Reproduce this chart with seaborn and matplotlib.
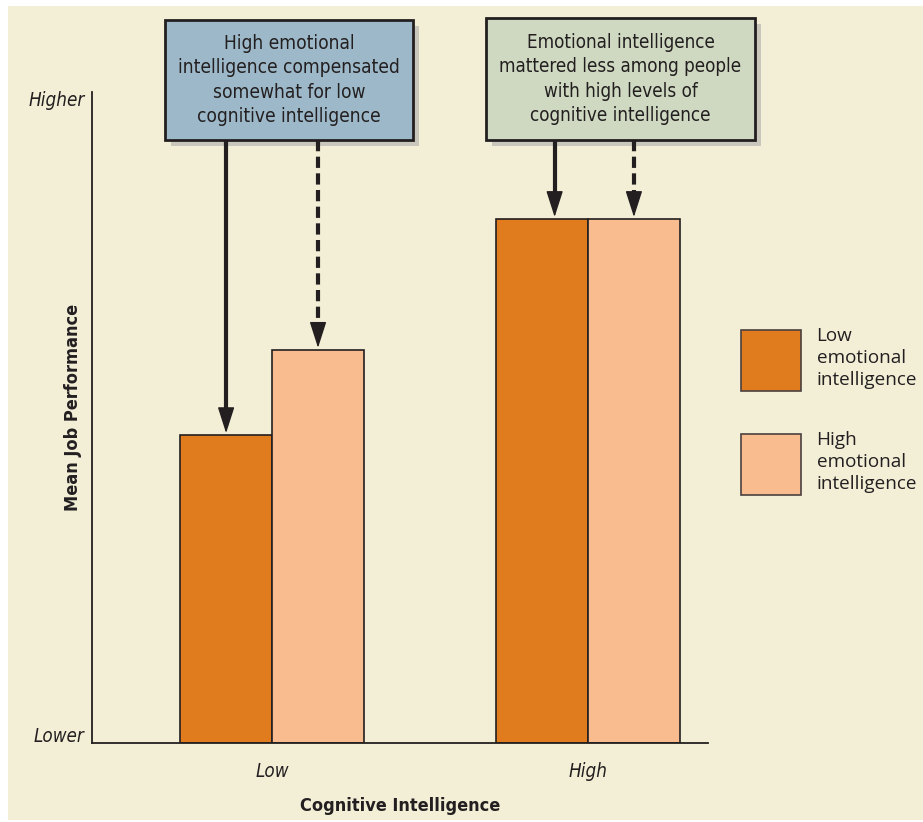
import matplotlib
matplotlib.use("Agg")
import matplotlib.pyplot as plt
import matplotlib.font_manager as fm
import seaborn as sns
import pandas as pd
from matplotlib.patches import Rectangle

# ---- data ----
cognitive = ["Low", "Low", "High", "High"]
emotional = ["Low emotional intelligence", "High emotional intelligence",
             "Low emotional intelligence", "High emotional intelligence"]
performance = [47.3, 60.4, 80.5, 80.5]
cog_order = ["Low", "High"]
emo_order = ["Low emotional intelligence", "High emotional intelligence"]
legend_labels = ["Low\nemotional\nintelligence", "High\nemotional\nintelligence"]
y_labels = ["Lower", "Higher"]
box_texts = ["High emotional\nintelligence compensated\nsomewhat for low\ncognitive intelligence",
             "Emotional intelligence\nmattered less among people\nwith high levels of\ncognitive intelligence"]

df = pd.DataFrame({"cog": cognitive, "emo": emotional, "perf": performance})

W, H = 923, 822
CREAM = "#F3EFD7"
DARK = "#E07B1E"
LIGHT = "#F9BC8F"
INK = "#231F20"

# pick a condensed font if one is available
flist = fm.fontManager.ttflist
names = {f.name for f in flist}
NSTRETCH = "normal"
if "Liberation Sans Narrow" in names:
    NARROW = ["Liberation Sans Narrow", "DejaVu Sans"]
elif any(f.name == "DejaVu Sans" and f.stretch in ("condensed", "semi-condensed") for f in flist):
    NARROW = ["DejaVu Sans"]
    NSTRETCH = "condensed"
else:
    others = sorted(n for n in names if ("Condensed" in n or "Narrow" in n))
    NARROW = (others[:1] if others else ["Roboto"]) + ["DejaVu Sans"]
HUMAN = ["Open Sans", "DejaVu Sans"]

sns.set_style("white")
plt.rcParams["font.family"] = NARROW
plt.rcParams["font.stretch"] = NSTRETCH

fig = plt.figure(figsize=(W / 100, H / 100), dpi=100)
fig.patch.set_facecolor("white")
fig.add_artist(Rectangle((8 / W, 1 - 820 / H), 1, (820 - 6) / H,
                         transform=fig.transFigure, facecolor=CREAM,
                         edgecolor="none", zorder=-10))


def fx(px):
    return px / W


def fy(py):
    return 1 - py / H


ax = fig.add_axes([fx(92), fy(743), fx(708) - fx(92), fy(92) - fy(743)])
ax.set_facecolor("none")

sns.barplot(data=df, x="cog", y="perf", hue="emo", order=cog_order,
            hue_order=emo_order, palette=[DARK, LIGHT], width=0.582,
            edgecolor=INK, linewidth=1.2, saturation=1, ax=ax, legend=True)

ax.set_xlim(-0.57, 1.38)
ax.set_ylim(0, 100)
for s in ["top", "right"]:
    ax.spines[s].set_visible(False)
for s in ["left", "bottom"]:
    ax.spines[s].set_color(INK)
    ax.spines[s].set_linewidth(1.3)

ax.set_yticks([])
ax.tick_params(axis="x", length=0, pad=14)
ax.set_xticks([0, 1])
ax.set_xticklabels(cog_order, fontsize=13.5, style="italic", color=INK,
                   family=NARROW, stretch=NSTRETCH)
ax.set_xlabel("Cognitive Intelligence", fontsize=13, fontweight="bold",
              color=INK, family=NARROW, stretch=NSTRETCH)
ax.set_ylabel("Mean Job Performance", fontsize=13, fontweight="bold",
              color=INK, family=NARROW, stretch=NSTRETCH)
ax.yaxis.set_label_coords(-0.016, 0.515)
ax.xaxis.set_label_coords(0.5, -0.083)

ax.text(-0.012, 0.01, y_labels[0], transform=ax.transAxes, ha="right", va="center",
        fontsize=13.5, style="italic", color=INK, family=NARROW, stretch=NSTRETCH)
ax.text(-0.012, 0.987, y_labels[1], transform=ax.transAxes, ha="right", va="center",
        fontsize=13.5, style="italic", color=INK, family=NARROW, stretch=NSTRETCH)

# legend
handles, _ = ax.get_legend_handles_labels()
for h in handles:
    h.set_edgecolor("#4a4040")
leg = ax.legend(handles, legend_labels, loc="upper left",
                bbox_to_anchor=(fx(741), fy(327)), bbox_transform=fig.transFigure,
                frameon=False, handlelength=3.2, handleheight=4.65,
                labelspacing=2.1, handletextpad=0.8, borderaxespad=0,
                borderpad=0,
                prop={"family": HUMAN, "size": 13.6, "stretch": "normal"})
for t in leg.get_texts():
    t.set_color(INK)
    t.set_linespacing(1.3)

# annotation boxes
boxes = [((165, 20, 413, 140), "#9DB9C9"), ((486, 18, 755, 140), "#CFD9C1")]
for (x0, y0, x1, y1), col in boxes:
    fig.add_artist(Rectangle((fx(x0 + 6), fy(y1 + 6)), fx(x1 - x0), fy(y0) - fy(y1),
                             transform=fig.transFigure, facecolor="#C9C6BB",
                             edgecolor="none", zorder=-1))
    fig.add_artist(Rectangle((fx(x0), fy(y1)), fx(x1 - x0), fy(y0) - fy(y1),
                             transform=fig.transFigure, facecolor=col,
                             edgecolor=INK, linewidth=2, zorder=2))
renderer = fig.canvas.get_renderer()
target_w = [221, 242]
for (b, _), txt, tw in zip(boxes, box_texts, target_w):
    x0, y0, x1, y1 = b
    t = fig.text(fx((x0 + x1) / 2), fy((y0 + y1) / 2), txt, ha="center", va="center",
                 fontsize=13.5, color=INK, linespacing=1.36, zorder=3,
                 family=NARROW, stretch=NSTRETCH)
    w = t.get_window_extent(renderer).width
    fs = 13.5 * tw / w
    t.set_fontsize(fs)
    t.set_linespacing(1.36 * 13.5 / fs)

# arrows from boxes to bar tops
bars = [p for p in ax.patches if p.get_height() > 0]
bars = sorted(bars, key=lambda p: p.get_x())
top_y = (743 - 140) / 651 * 100
offsets = [0.0, 0.0, 0.04, 0.0]
styles = ["-", "--", "-", "--"]
head = 23 / 651 * 100
for p, off, ls in zip(bars, offsets, styles):
    x = p.get_x() + p.get_width() / 2 + off
    yb = p.get_height() + 0.3
    ax.plot([x, x], [top_y, yb + head * 0.5], color=INK, lw=3,
            linestyle=(0, (2.7, 1.3)) if ls == "--" else "-",
            clip_on=False, solid_capstyle="butt", dash_capstyle="butt", zorder=5)
    ax.annotate("", xy=(x, yb), xytext=(x, yb + head),
                arrowprops=dict(arrowstyle="-|>,head_length=1.0,head_width=0.32",
                                color=INK, lw=1, mutation_scale=16.5,
                                shrinkA=0, shrinkB=0),
                annotation_clip=False, zorder=6)

fig.savefig("out.png", dpi=100, facecolor=fig.get_facecolor())
